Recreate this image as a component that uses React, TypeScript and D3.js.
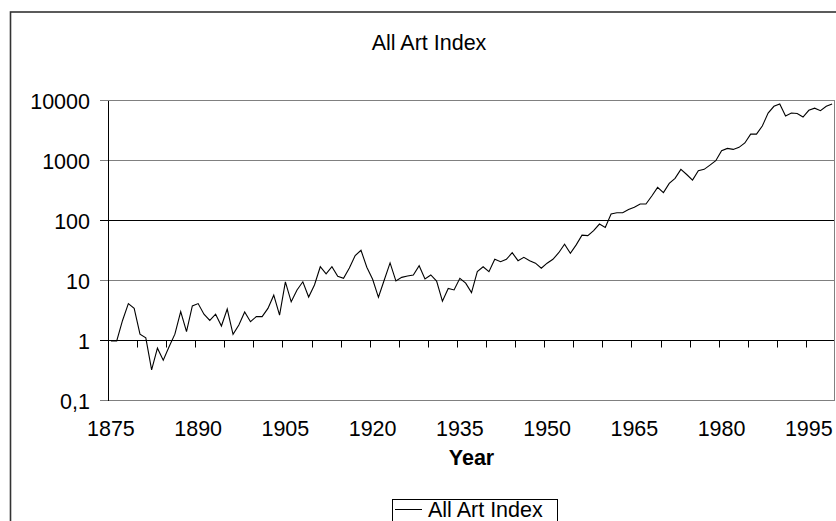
import React, { useEffect, useRef } from "react";
import * as d3 from "d3";

// Years on the category axis
const years: number[] = d3.range(1875, 2000);

// All Art Index values (1875 = 1)
const indexValues: number[] = [
  1, 1, 2.2, 4.2, 3.5, 1.3, 1.13, 0.33, 0.76, 0.48,
  0.8, 1.3, 3.1, 1.43, 3.85, 4.2, 2.8, 2.2, 2.8, 1.78,
  3.4, 1.29, 1.85, 3.05, 2.1, 2.55, 2.55, 3.5, 5.8, 2.7,
  9.7, 4.5, 7.1, 9.7, 5.4, 8.6, 17.3, 13.2, 17.3, 12,
  11.1, 16.5, 26.5, 32.5, 17, 10.7, 5.35, 10.4, 20, 10,
  11.5, 12.1, 12.6, 18, 10.8, 12.6, 10, 4.6, 7.5, 7.1,
  11.1, 9.2, 6.4, 14.3, 17.3, 14.3, 23, 21, 23, 29.6,
  21.8, 24.8, 21.8, 19.8, 16.3, 19.8, 23, 29.6, 41, 28.9,
  40, 58, 57, 69, 89, 78, 131, 137, 137, 156,
  169, 192, 192, 261, 364, 297, 424, 514, 726, 596,
  480, 690, 726, 855, 1010, 1480, 1620, 1560, 1690, 2000,
  2800, 2800, 3820, 6300, 8150, 8900, 5620, 6300, 6200, 5400,
  7000, 7600, 6900, 8150, 8900,
];

const yTicks: number[] = [0.1, 1, 10, 100, 1000, 10000];
const yTickLabels: string[] = ["0,1", "1", "10", "100", "1000", "10000"];
const xTickLabels: number[] = [1875, 1890, 1905, 1920, 1935, 1950, 1965, 1980, 1995];

const seriesName = "All Art Index";

const AllArtIndexChart = () => {
  const chartRef = useRef<SVGSVGElement | null>(null);

  useEffect(() => {
    const svg = d3.select(chartRef.current);
    svg.selectAll("*").remove();

    const left = 108;
    const right = 835;
    const top = 101;
    const bottom = 401;
    const font = "'Liberation Sans', Arial, sans-serif";
    const fontSize = "21.5px";

    const x = d3.scaleBand<number>().domain(years).range([left, right]).padding(0);
    const y = d3.scaleLog().domain([0.1, 10000]).range([bottom, top]);
    const cx = (yr: number) => (x(yr) as number) + x.bandwidth() / 2;
    const crisp = (v: number) => Math.round(v) - 0.5;

    // chart area border (cut off on the right and bottom)
    svg
      .append("rect")
      .attr("x", 10.5)
      .attr("y", 12)
      .attr("width", 900)
      .attr("height", 600)
      .attr("fill", "#fff")
      .attr("stroke", "#333")
      .attr("stroke-width", 1.6);

    // title
    svg
      .append("text")
      .attr("x", 429)
      .attr("y", 50)
      .attr("text-anchor", "middle")
      .style("font-family", font)
      .style("font-size", fontSize)
      .text(seriesName);

    // horizontal gridlines + y ticks
    svg
      .selectAll("line.grid")
      .data(yTicks)
      .join("line")
      .attr("class", "grid")
      .attr("x1", left - 8)
      .attr("x2", right)
      .attr("y1", (d) => crisp(y(d)))
      .attr("y2", (d) => crisp(y(d)))
      .attr("stroke", (d) => (d === 1 || d === 100 ? "#000" : "#808080"))
      .attr("stroke-width", 1);

    svg
      .selectAll("text.ylab")
      .data(yTicks)
      .join("text")
      .attr("class", "ylab")
      .attr("x", 90)
      .attr("y", (d) => y(d))
      .attr("dy", "0.35em")
      .attr("text-anchor", "end")
      .style("font-family", font)
      .style("font-size", fontSize)
      .text((d, i) => yTickLabels[i]);

    // value axis
    svg
      .append("line")
      .attr("x1", left + 0.5)
      .attr("x2", left + 0.5)
      .attr("y1", top)
      .attr("y2", bottom)
      .attr("stroke", "#000");

    // plot area right edge
    svg
      .append("line")
      .attr("x1", right - 0.5)
      .attr("x2", right - 0.5)
      .attr("y1", top)
      .attr("y2", bottom)
      .attr("stroke", "#808080");

    // category axis crosses at 1, tick every 5 years
    const y1 = crisp(y(1));
    const tickYears = years.filter((yr) => (yr - 1875) % 5 === 0);
    svg
      .selectAll("line.xtick")
      .data(tickYears)
      .join("line")
      .attr("class", "xtick")
      .attr("x1", (d) => Math.round(x(d) as number) + 0.5)
      .attr("x2", (d) => Math.round(x(d) as number) + 0.5)
      .attr("y1", y1)
      .attr("y2", y1 + 7)
      .attr("stroke", "#000");

    svg
      .selectAll("text.xlab")
      .data(xTickLabels)
      .join("text")
      .attr("class", "xlab")
      .attr("x", (d) => cx(d))
      .attr("y", 436)
      .attr("text-anchor", "middle")
      .style("font-family", font)
      .style("font-size", fontSize)
      .text((d) => d);

    svg
      .append("text")
      .attr("x", (left + right) / 2)
      .attr("y", 465)
      .attr("text-anchor", "middle")
      .style("font-family", font)
      .style("font-size", fontSize)
      .style("font-weight", "bold")
      .text("Year");

    // series line
    const line = d3
      .line<number>()
      .x((d, i) => cx(years[i]))
      .y((d) => y(d));

    svg
      .append("path")
      .datum(indexValues)
      .attr("d", line)
      .attr("fill", "none")
      .attr("stroke", "#000")
      .attr("stroke-width", 1.1);

    // legend
    const lg = svg.append("g");
    lg.append("rect")
      .attr("x", 392.5)
      .attr("y", 499.5)
      .attr("width", 165)
      .attr("height", 40)
      .attr("fill", "#fff")
      .attr("stroke", "#000");
    lg.append("line")
      .attr("x1", 395)
      .attr("x2", 422)
      .attr("y1", 509.5)
      .attr("y2", 509.5)
      .attr("stroke", "#000");
    lg.append("text")
      .attr("x", 428)
      .attr("y", 517)
      .style("font-family", font)
      .style("font-size", fontSize)
      .text(seriesName);
  }, []);

  return (
    <svg
      ref={chartRef}
      width={836}
      height={521}
      style={{ position: "absolute", left: 0, top: 0, background: "#fff" }}
    />
  );
};

export default function App() {
  return <AllArtIndexChart />;
}
